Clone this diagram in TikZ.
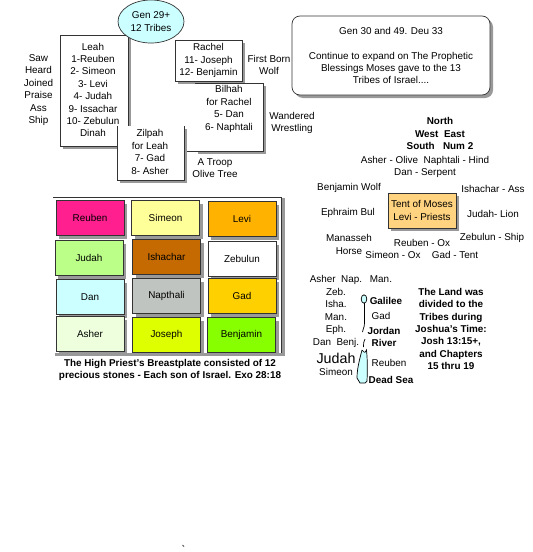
\documentclass[tikz,border=0pt]{standalone}
\usepackage{fontspec}
\setmainfont{Liberation Sans}
\usetikzlibrary{shadows,shapes.geometric}
\definecolor{Pale_Cyan}{HTML}{CCFFFF}
\definecolor{Tent_Gold}{HTML}{FFD37F}
\definecolor{Stone_Shadow}{HTML}{999999}
\definecolor{Stone_Reuben}{HTML}{FF1F8F}
\definecolor{Stone_Simeon}{HTML}{FFFF99}
\definecolor{Stone_Levi}{HTML}{FFB300}
\definecolor{Stone_Judah}{HTML}{BBFF88}
\definecolor{Stone_Ishachar}{HTML}{C46A00}
\definecolor{Stone_Napthali}{HTML}{C0C4C0}
\definecolor{Stone_Gad}{HTML}{FFD000}
\definecolor{Stone_Asher}{HTML}{EEFFDD}
\definecolor{Stone_Joseph}{HTML}{DDFF00}
\definecolor{Stone_Benjamin}{HTML}{88FF00}
\tikzset{
    plaintext/.style={align=center, inner sep=0pt, font=\fontsize{9.9}{12.4}\selectfont},
    boldtext/.style={plaintext, font=\fontsize{9.9}{12.4}\selectfont\bfseries},
    boxshadow/.style={drop shadow={shadow xshift=3pt, shadow yshift=-3pt, fill=Stone_Shadow, opacity=1}},
    namebox/.style={plaintext, draw=black!80, fill=white, line width=0.7pt, boxshadow},
    stone/.style={namebox, minimum width=68pt, minimum height=35pt}
}
\begin{document}
\begin{tikzpicture}[x=1pt, y=-1pt]
    \useasboundingbox (0,0) rectangle (533,552);

    % Wives and sons
    \node[plaintext] (deeds) at (38.5,90) {Saw\\Heard\\Joined\\Praise\\Ass\\Ship};
    \node[namebox, minimum width=68pt, minimum height=111pt] (leahbox) at (94,90.5) {};
    \node[namebox, minimum width=67pt, minimum height=41pt] (rachel) at (208.5,60.5) {Rachel\\11- Joseph\\12- Benjamin};

    % Bilhah has no left edge
    \fill[Stone_Shadow] (198,86) rectangle (266,154);
    \fill[white] (195,83) rectangle (263,151);
    \draw[black!80, line width=0.7pt] (195,83) -- (263,83) -- (263,151) -- (184,151);

    % Zilpah has no top edge and covers the corner of Leah
    \fill[Stone_Shadow] (120,129) rectangle (187,183);
    \fill[white] (117,126) rectangle (184,180);
    \draw[black!80, line width=0.7pt] (117,126) -- (117,180) -- (184,180) -- (184,126);

    \node[plaintext] (leah) at (93,90) {Leah\\1-Reuben\\2- Simeon\\3- Levi\\4- Judah\\9- Issachar\\10- Zebulun\\Dinah};
    \node[plaintext] (bilhah) at (229,109) {Bilhah\\for Rachel\\5- Dan\\6- Naphtali};
    \node[plaintext] (zilpah) at (150,152) {Zilpah\\for Leah\\7- Gad\\8- Asher};
    \node[plaintext] (troop) at (215,168) {A Troop\\Olive Tree};
    \node[plaintext] (firstborn) at (269,65) {First Born\\Wolf};
    \node[plaintext] (wandered) at (292,123) {Wandered\\Wrestling};

    % Title ellipse
    \node[plaintext, draw=black!80, fill=Pale_Cyan, line width=0.7pt, shape=ellipse, minimum width=66pt, minimum height=43pt] (tribes) at (151,21.5) {Gen 29+\\12 Tribes};

    % Reference box
    \node[namebox, rounded corners=8pt, minimum width=198pt, minimum height=79pt] (blessings) at (391,55.5) {Gen 30 and 49. Deu 33\\[12.4pt]Continue to expand on The Prophetic\\Blessings Moses gave to the 13\\Tribes of Israel....};

    % Breastplate frame
    \fill[Stone_Shadow] (55,353) rectangle (285,356);
    \fill[Stone_Shadow] (282,198) rectangle (285,356);
    \draw[black!80, line width=0.7pt] (53,197.3) -- (281.7,197.3) -- (281.7,353);

    % Breastplate stones
    \node[stone, fill=Stone_Reuben] (reuben) at (90,218) {Reuben};
    \node[stone, fill=Stone_Simeon] (simeon) at (165.5,218) {Simeon};
    \node[stone, fill=Stone_Levi] (levi) at (242,219) {Levi};
    \node[stone, fill=Stone_Judah] (judah) at (89,258) {Judah};
    \node[stone, fill=Stone_Ishachar] (ishachar) at (166.5,257) {Ishachar};
    \node[stone, fill=white] (zebulun) at (242,259) {Zebulun};
    \node[stone, fill=Pale_Cyan] (dan) at (90,297) {Dan};
    \node[stone, fill=Stone_Napthali] (napthali) at (166.5,296) {Napthali};
    \node[stone, fill=Stone_Gad] (gad) at (242,296) {Gad};
    \node[stone, fill=Stone_Asher] (asher) at (90,334) {Asher};
    \node[stone, fill=Stone_Joseph] (joseph) at (166.5,335) {Joseph};
    \node[stone, fill=Stone_Benjamin] (benjamin) at (241.5,335) {Benjamin};
    \node[boldtext] (breastplate) at (170,370) {The High Priest's Breastplate consisted of 12\\precious stones - Each son of Israel. Exo 28:18};

    % Camp around the tent
    \node[boldtext] (compass) at (440,133.5) {North\\West\ \ East\\South\ \ \ Num 2};
    \node[plaintext] (northcamp) at (425,167) {Asher - Olive\ \ Naphtali - Hind\\Dan - Serpent};
    \node[plaintext] (bwolf) at (349,188) {Benjamin Wolf};
    \node[plaintext] (ishass) at (493,189) {Ishachar - Ass};
    \node[namebox, fill=Tent_Gold, minimum width=68pt, minimum height=35pt] (tent) at (422,210.5) {Tent of Moses\\Levi - Priests};
    \node[plaintext] (ephraim) at (348,213) {Ephraim Bul};
    \node[plaintext] (jlion) at (493,214) {Judah- Lion};
    \node[plaintext] (manasseh) at (349,244.5) {Manasseh\\Horse};
    \node[plaintext] (rox) at (422,243) {Reuben - Ox};
    \node[plaintext] (zship) at (492,238) {Zebulun - Ship};
    \node[plaintext] (sox) at (393,255) {Simeon - Ox};
    \node[plaintext] (gtent) at (455,255) {Gad - Tent};

    % Jordan river
    \draw[black, fill=Pale_Cyan, line width=0.7pt] (364,299) ellipse (2.8 and 4.2);
    \draw[black, line width=0.7pt] (364.5,303) -- (364.5,323) .. controls (364.5,328) and (362.5,329) .. (362.5,332);
    \draw[black, line width=0.7pt] (365,339) .. controls (363.5,341) and (363.5,344) .. (363.5,347);
    \draw[black, fill=Pale_Cyan, line width=0.7pt] (362,350) .. controls (360,358) and (357,368) .. (357,378) -- (360,383) -- (365,383) -- (367,381) .. controls (367.5,370) and (367.5,360) .. (366.5,350) .. controls (365,354) and (363.5,352) .. (362,350);

    % Land of the tribes
    \node[plaintext] (anap) at (336,280) {Asher\ \ Nap.};
    \node[plaintext] (wman) at (381,279) {Man.};
    \node[plaintext] (westlist) at (336,311.5) {Zeb.\\Isha.\\Man.\\Eph.};
    \node[plaintext] (dbenj) at (336,343) {Dan\ \ Benj.};
    \node[plaintext, font=\fontsize{14.3}{16}\selectfont] (bigjudah) at (336,358) {Judah};
    \node[plaintext] (lsimeon) at (336,372) {Simeon};
    \node[boldtext] (galilee) at (386,301) {Galilee};
    \node[plaintext] (lgad) at (381,316) {Gad};
    \node[boldtext] (jordan) at (384,337) {Jordan\\River};
    \node[plaintext] (lreuben) at (389,363) {Reuben};
    \node[boldtext] (deadsea) at (391,380) {Dead Sea};
    \node[boldtext] (landnote) at (451,329) {The Land was\\divided to the\\Tribes during\\Joshua's Time:\\Josh 13:15+,\\and Chapters\\15 thru 19};

    % Stray mark at the foot of the page
    \draw[black!70, line width=0.8pt] (182.5,545) -- (184,546.5);
\end{tikzpicture}
\end{document}
